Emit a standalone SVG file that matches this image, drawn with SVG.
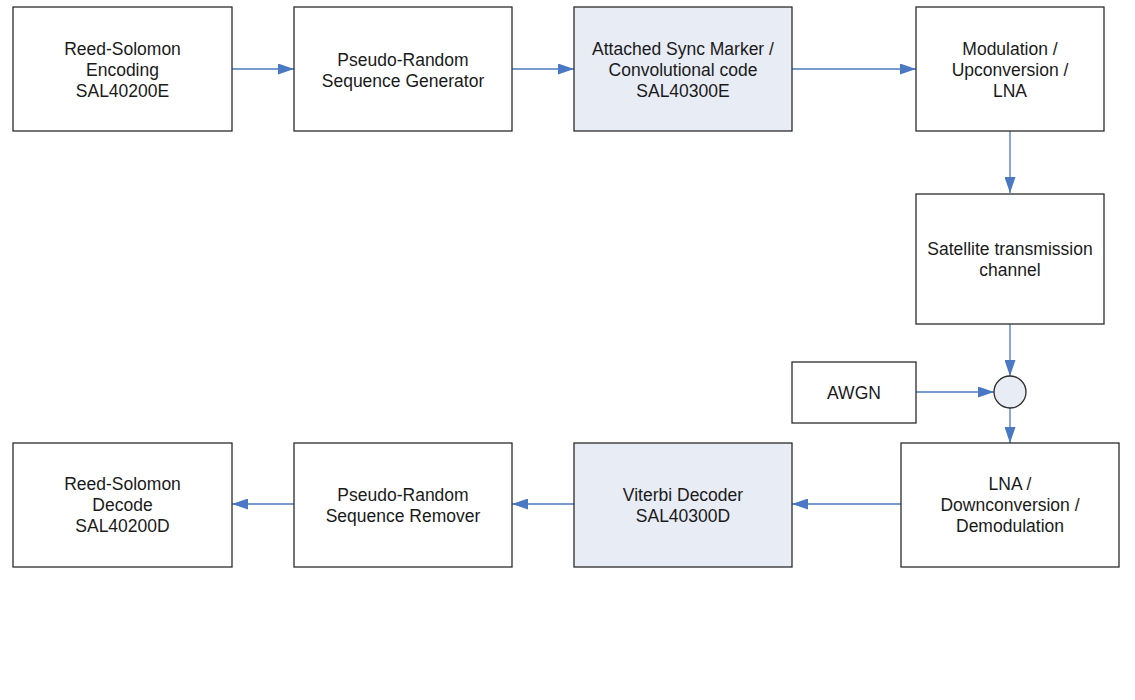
<svg xmlns="http://www.w3.org/2000/svg" width="1135" height="700" viewBox="0 0 1135 700">
<style>
.box{fill:#ffffff;stroke:#2b2b2b;stroke-width:1.3}
.hl{fill:#e8ecf5;stroke:#2b2b2b;stroke-width:1.3}
.t{font-family:"Liberation Sans",Arial,sans-serif;font-size:17.5px;fill:#1a1a1a;text-anchor:middle}
.c{stroke:#4a78c2;stroke-width:1.3;fill:none;marker-end:url(#ah)}
</style>
<defs>
<marker id="ah" markerUnits="userSpaceOnUse" markerWidth="16" markerHeight="11" refX="16" refY="5.5" orient="auto">
<path d="M0,0 L16,5.5 L0,11 z" fill="#4a78c2"/>
</marker>
</defs>
<rect width="1135" height="700" fill="#ffffff"/>
<g id="connectors">
<line class="c" x1="232" y1="69" x2="294" y2="69"/>
<line class="c" x1="512" y1="69" x2="574" y2="69"/>
<line class="c" x1="792" y1="69" x2="916" y2="69"/>
<line class="c" x1="1010" y1="131" x2="1010" y2="193"/>
<line class="c" x1="1010" y1="323" x2="1010" y2="376"/>
<line class="c" x1="916" y1="392" x2="994" y2="392"/>
<line class="c" x1="1010" y1="408" x2="1010" y2="443"/>
<line class="c" x1="901" y1="504" x2="792" y2="504"/>
<line class="c" x1="574" y1="504" x2="512" y2="504"/>
<line class="c" x1="294" y1="504" x2="232" y2="504"/>
</g>
<g id="rs-encoding">
<rect class="box" x="13" y="7" width="219" height="124"/>
<text class="t" x="122.5" y="55">Reed-Solomon</text>
<text class="t" x="122.5" y="76">Encoding</text>
<text class="t" x="122.5" y="97">SAL40200E</text>
</g>
<g id="pr-generator">
<rect class="box" x="294" y="7" width="218" height="124"/>
<text class="t" x="403" y="66">Pseudo-Random</text>
<text class="t" x="403" y="87">Sequence Generator</text>
</g>
<g id="asm-conv">
<rect class="hl" x="574" y="7" width="218" height="124"/>
<text class="t" x="683" y="55">Attached Sync Marker /</text>
<text class="t" x="683" y="76">Convolutional code</text>
<text class="t" x="683" y="97">SAL40300E</text>
</g>
<g id="modulation">
<rect class="box" x="916" y="7" width="188" height="124"/>
<text class="t" x="1010" y="55">Modulation /</text>
<text class="t" x="1010" y="76">Upconversion /</text>
<text class="t" x="1010" y="97">LNA</text>
</g>
<g id="satellite">
<rect class="box" x="916" y="194" width="188" height="130"/>
<text class="t" x="1010" y="255">Satellite transmission</text>
<text class="t" x="1010" y="276">channel</text>
</g>
<g id="awgn">
<rect class="box" x="792" y="362" width="124" height="61"/>
<text class="t" x="854" y="398.5">AWGN</text>
</g>
<g id="sum">
<circle class="hl" cx="1010" cy="392" r="16"/>
</g>
<g id="lna-demod">
<rect class="box" x="901" y="443" width="218" height="124"/>
<text class="t" x="1010" y="490">LNA /</text>
<text class="t" x="1010" y="511">Downconversion /</text>
<text class="t" x="1010" y="532">Demodulation</text>
</g>
<g id="viterbi">
<rect class="hl" x="574" y="443" width="218" height="124"/>
<text class="t" x="683" y="501">Viterbi Decoder</text>
<text class="t" x="683" y="522">SAL40300D</text>
</g>
<g id="pr-remover">
<rect class="box" x="294" y="443" width="218" height="124"/>
<text class="t" x="403" y="501">Pseudo-Random</text>
<text class="t" x="403" y="522">Sequence Remover</text>
</g>
<g id="rs-decode">
<rect class="box" x="13" y="443" width="219" height="124"/>
<text class="t" x="122.5" y="490">Reed-Solomon</text>
<text class="t" x="122.5" y="511">Decode</text>
<text class="t" x="122.5" y="532">SAL40200D</text>
</g>
</svg>
